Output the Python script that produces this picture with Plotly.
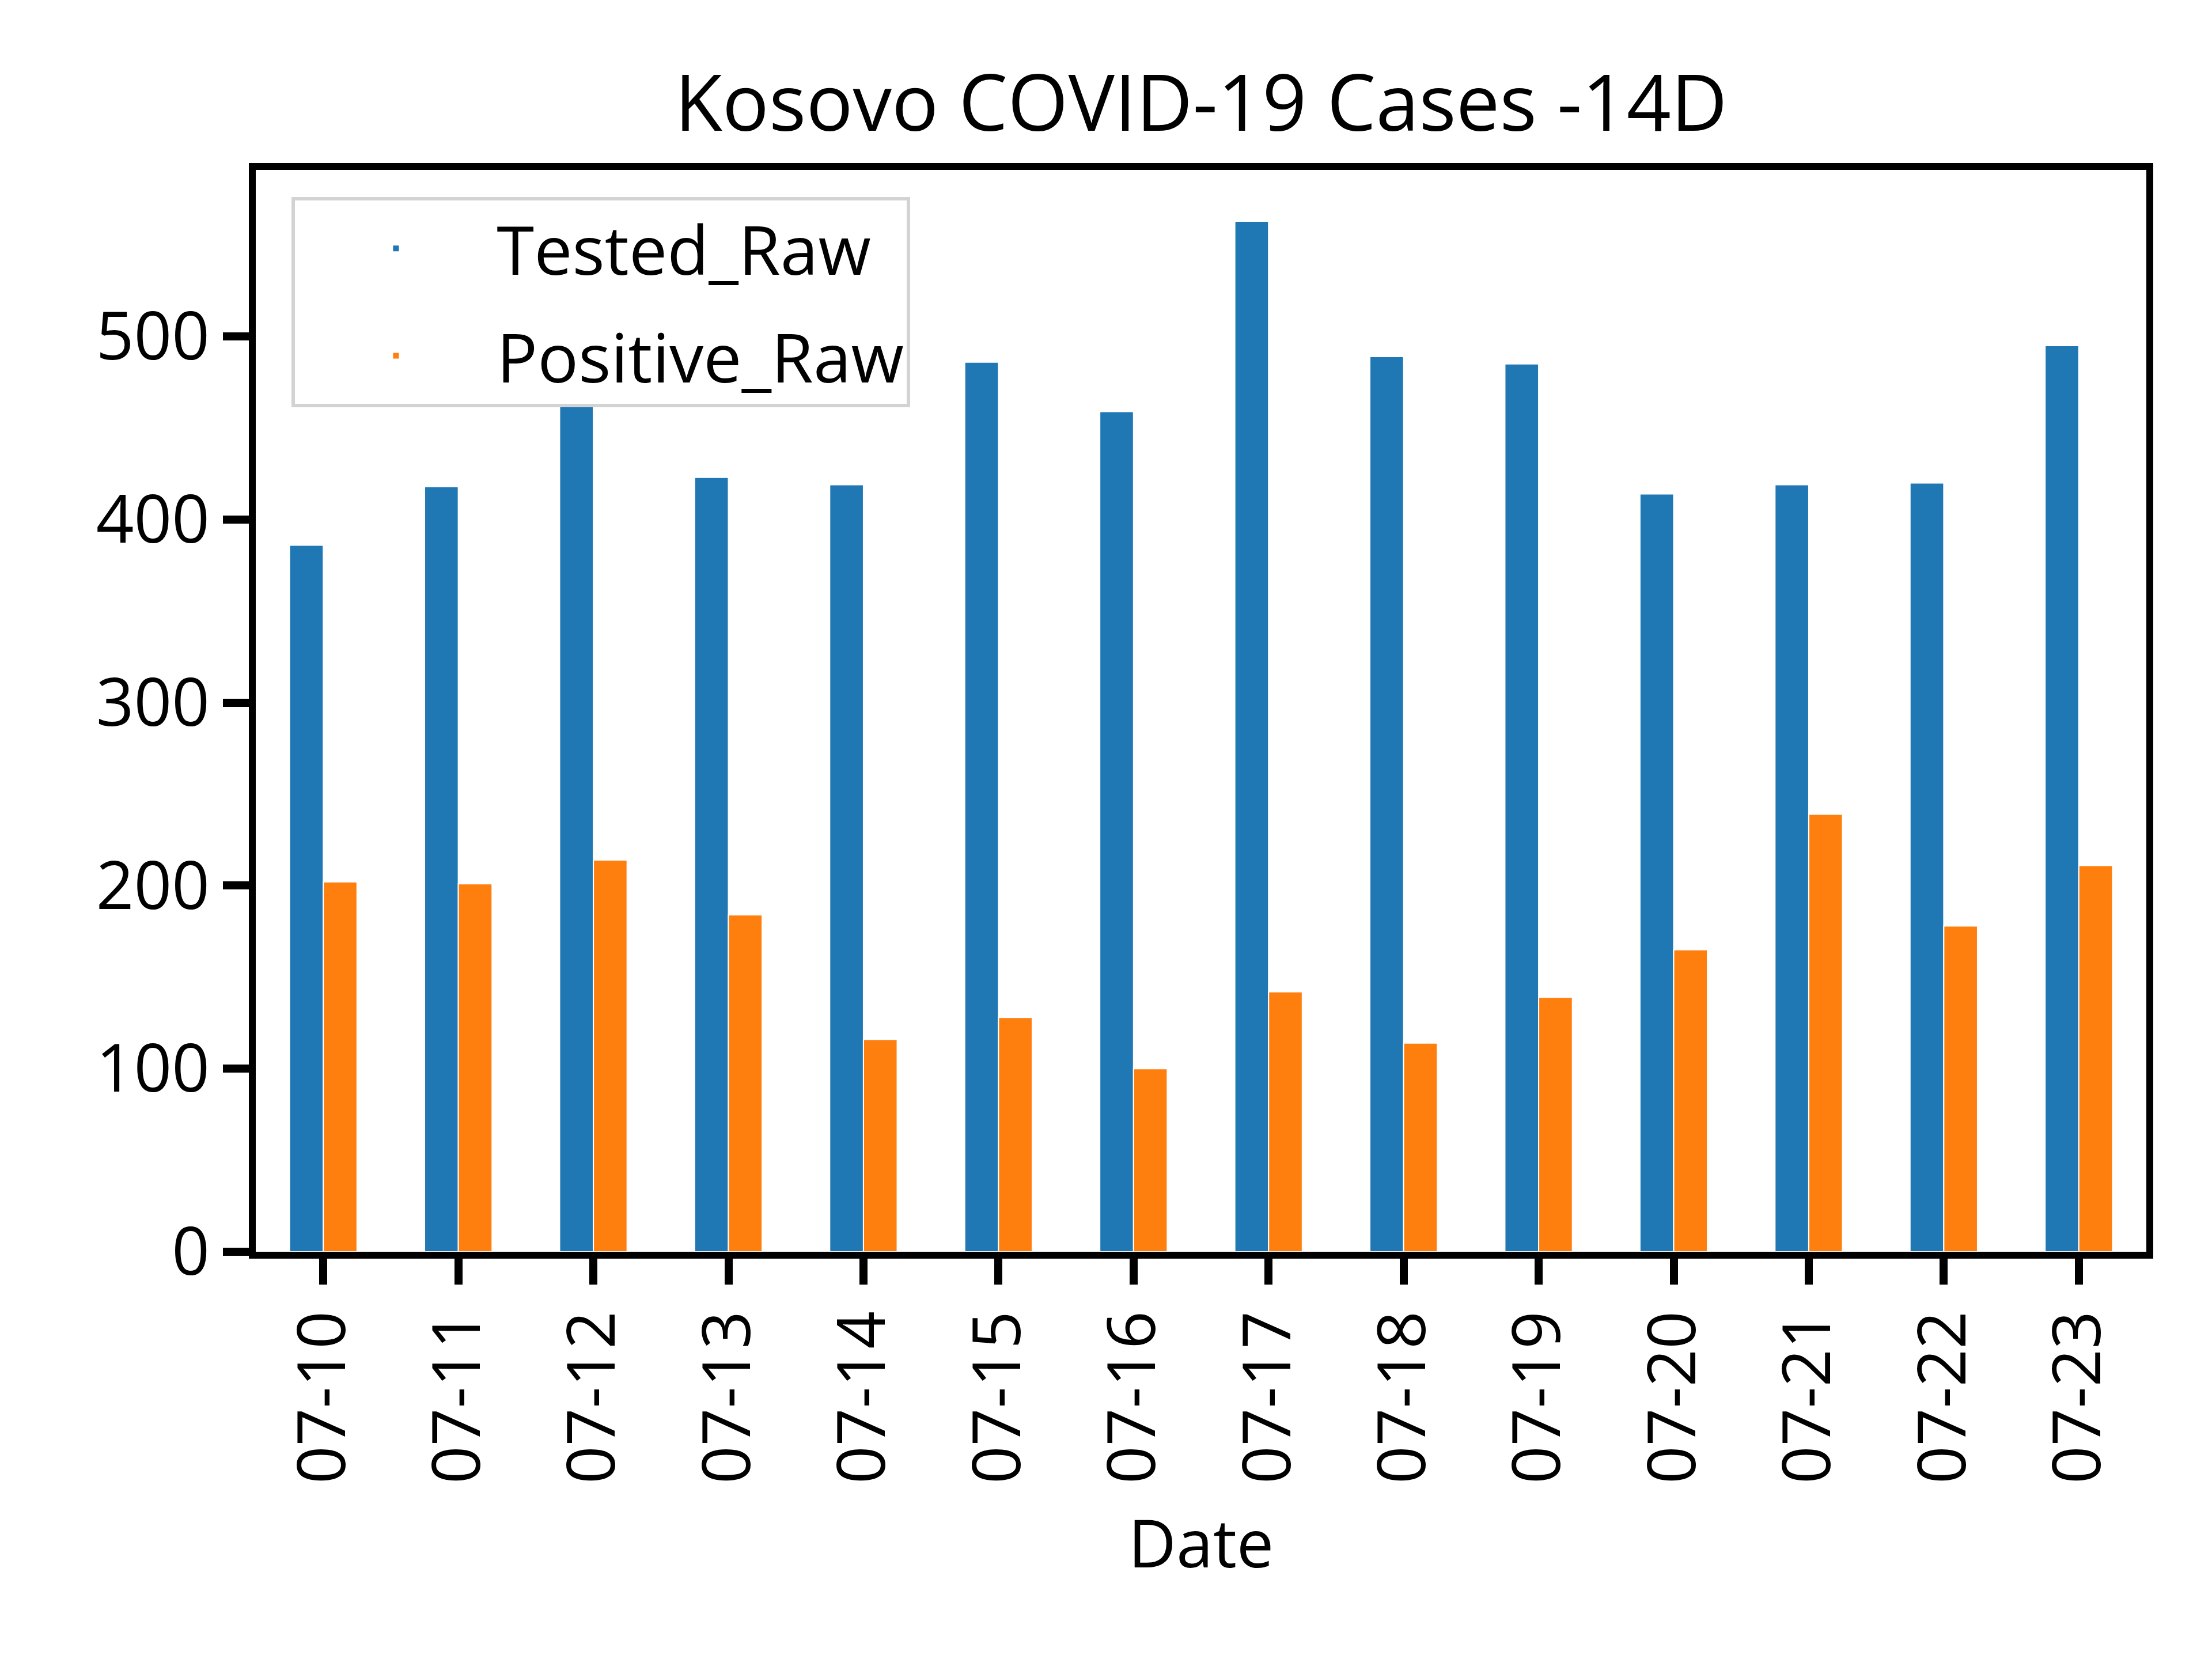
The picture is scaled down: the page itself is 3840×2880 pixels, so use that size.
import plotly.graph_objects as go

dates = ["07-10", "07-11", "07-12", "07-13", "07-14", "07-15", "07-16",
         "07-17", "07-18", "07-19", "07-20", "07-21", "07-22", "07-23"]
tested_raw = [386, 418, 486, 423, 419, 486, 459, 563, 489, 485, 414, 419, 420, 495]
positive_raw = [202, 201, 214, 184, 116, 128, 100, 142, 114, 139, 165, 239, 178, 211]

font_name = "Open Sans"

fig = go.Figure()
fig.add_trace(go.Bar(x=dates, y=tested_raw, name="Tested_Raw", legendgroup="t",
                     marker=dict(color="#1f77b4", line=dict(color="white", width=2))))
fig.add_trace(go.Bar(x=dates, y=positive_raw, name="Positive_Raw", legendgroup="p",
                     marker=dict(color="#ff7f0e", line=dict(color="white", width=2))))

fig.update_layout(
    width=3840, height=2880,
    barmode="group", bargap=0.5, bargroupgap=0,
    plot_bgcolor="white", paper_bgcolor="white",
    margin=dict(l=436, r=122, t=287, b=715),
    font=dict(family=font_name, size=115, color="black"),
    title=dict(text="Kosovo COVID-19 Cases -14D", x=0.5, xref="paper",
               y=1 - 172 / 2880, yanchor="middle", xanchor="center",
               font=dict(size=135, family=font_name)),
    legend=dict(x=0.019, y=0.975, xanchor="left", yanchor="top",
                bgcolor="white", bordercolor="#d3d3d3", borderwidth=6,
                font=dict(size=118), tracegroupgap=30, itemwidth=340,
                traceorder="grouped"),
    showlegend=True,
)

fig.update_xaxes(
    type="category",
    title=dict(text="Date", font=dict(size=115), standoff=70),
    tickangle=-90, ticks="outside", ticklen=45, tickwidth=14, tickcolor="black",
    showline=True, linecolor="black", linewidth=12, mirror=True,
    showgrid=False, range=[-0.5, 13.5], tickfont=dict(size=115),
)
fig.update_yaxes(
    range=[0, 591], tickvals=[0, 100, 200, 300, 400, 500],
    ticks="outside", ticklen=45, tickwidth=14, tickcolor="black",
    showline=True, linecolor="black", linewidth=12, mirror=True,
    showgrid=False, zeroline=False, tickfont=dict(size=115),
)

fig.write_html("out.html")
